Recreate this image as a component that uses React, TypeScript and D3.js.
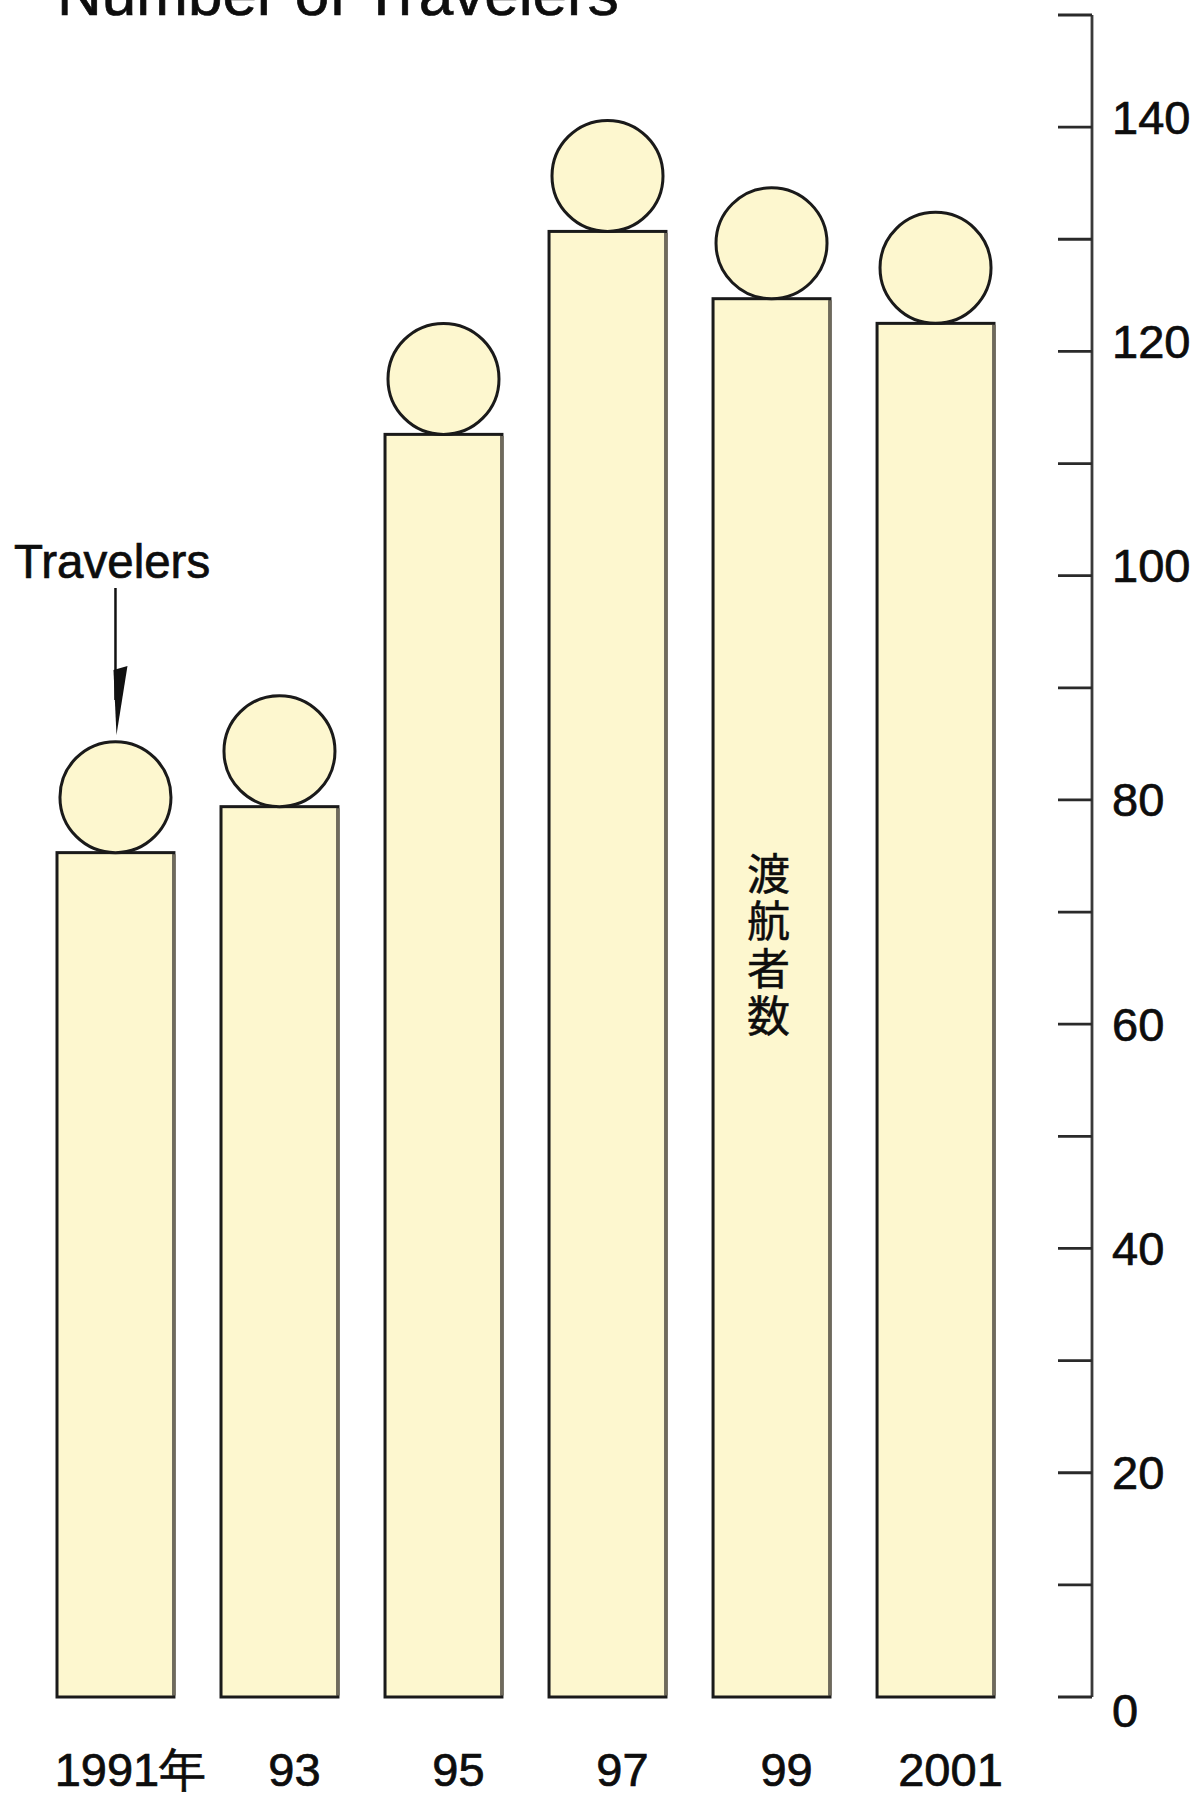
import React from "react";
import * as d3 from "d3";

const years = ["1991年", "93", "95", "97", "99", "2001"];
const travelers = [75.3, 79.4, 112.6, 130.7, 124.7, 122.5];
const yTicks = [0, 10, 20, 30, 40, 50, 60, 70, 80, 90, 100, 110, 120, 130, 140, 150];
const yLabels = [0, 20, 40, 60, 80, 100, 120, 140];
const title = "Number of Travelers";
const pointerLabel = "Travelers";
const innerLabel = ["渡", "航", "者", "数"];

const W = 1199;
const H = 1793;
const FILL = "#fdf7cf";
const FONT = "'Liberation Sans', Arial, Helvetica, sans-serif";
const TXT = "#0d0d0d";

export default function App() {
  const y = d3.scaleLinear().domain([0, 150]).range([1697, 15]);
  const x = d3
    .scaleBand<string>()
    .domain(years)
    .range([57, 994])
    .paddingInner(0.287)
    .paddingOuter(0);
  const bw = x.bandwidth();
  const r = 55.5;
  const axisX = 1092;
  const tickLen = 34;

  const firstCx = (x(years[0]) as number) + bw / 2;
  const labelBar = years[4];
  const labelCx = (x(labelBar) as number) + bw / 2 - 3;

  const heavy = { stroke: TXT, strokeWidth: 0.7 };

  return (
    <svg
      width={W}
      height={H}
      viewBox={`0 0 ${W} ${H}`}
      style={{ position: "absolute", left: 0, top: 0, background: "#fff" }}
    >
      <rect x={0} y={0} width={W} height={H} fill="#fff" />
      {/* title (clipped at top) */}
      <text x={57} y={15} fontFamily={FONT} fontSize={62} fill={TXT} {...heavy}>
        {title}
      </text>

      {/* bars + heads */}
      {years.map((yr, i) => {
        const x0 = x(yr) as number;
        const top = y(travelers[i]);
        const base = y(0);
        const cx = x0 + bw / 2;
        return (
          <g key={yr}>
            <rect
              x={x0}
              y={top}
              width={bw}
              height={base - top}
              fill={FILL}
              stroke="#1a1a1a"
              strokeWidth={3}
            />
            <line
              x1={x0 + bw}
              x2={x0 + bw}
              y1={top + 1.5}
              y2={base - 1.5}
              stroke="#6f6a5c"
              strokeWidth={3.5}
            />
            <circle
              cx={cx}
              cy={top - r}
              r={r}
              fill={FILL}
              stroke="#1a1a1a"
              strokeWidth={3}
            />
          </g>
        );
      })}

      {/* category labels */}
      {years.map((yr) => (
        <text
          key={"l" + yr}
          x={(x(yr) as number) + bw / 2 + 15}
          y={1786}
          textAnchor="middle"
          fontFamily={FONT}
          fontSize={47}
          fill={TXT}
          {...heavy}
        >
          {yr}
        </text>
      ))}

      {/* axis */}
      <line x1={axisX} x2={axisX} y1={y(150)} y2={y(0)} stroke="#3a3a3a" strokeWidth={2.8} />
      {yTicks.map((t) => (
        <line
          key={"t" + t}
          x1={axisX - tickLen}
          x2={axisX}
          y1={y(t)}
          y2={y(t)}
          stroke="#2a2a2a"
          strokeWidth={2.8}
        />
      ))}
      {yLabels.map((t) => (
        <text
          key={"y" + t}
          x={1112}
          y={t === 0 ? y(t) + 13 : y(t) - (t >= 100 ? 10 : 0)}
          dominantBaseline="central"
          fontFamily={FONT}
          fontSize={47}
          fill={TXT}
          {...heavy}
        >
          {t}
        </text>
      ))}

      {/* pointer label */}
      <text x={14} y={578} fontFamily={FONT} fontSize={47.5} fill={TXT} {...heavy}>
        {pointerLabel}
      </text>
      <line x1={firstCx} x2={firstCx} y1={588} y2={700} stroke="#111" strokeWidth={2.5} />
      <path
        d={`M${firstCx - 2},${670} L${firstCx + 12},${666} L${firstCx + 1},${735} Z`}
        fill="#111"
      />

      {/* inner vertical label */}
      <text
        textAnchor="middle"
        dominantBaseline="central"
        fontFamily="'Noto Sans CJK JP', sans-serif"
        fontSize={43}
        fill={TXT}
        stroke={TXT}
        strokeWidth={0.5}
      >
        {innerLabel.map((c, i) => (
          <tspan key={"c" + i} x={labelCx} y={871 + i * 47.3}>
            {c}
          </tspan>
        ))}
      </text>
    </svg>
  );
}
